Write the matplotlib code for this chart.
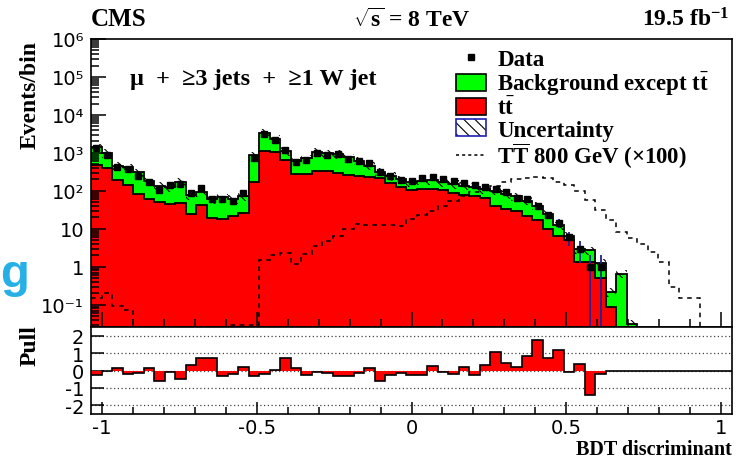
import numpy as np
import matplotlib.pyplot as plt
from matplotlib.patches import Patch
from matplotlib.lines import Line2D
from matplotlib.ticker import LogLocator, NullFormatter, MultipleLocator

# BDT discriminant, 61 bins between -1.035 and 1.035
x_lo, x_hi, n_bins = -1.035, 1.035, 61

ttbar = [483, 395, 195, 147, 81, 62, 50, 45, 48, 24.5,
         43, 19.5, 18.3, 21.4, 25.6, 170, 1150, 1050, 650, 280,
         280, 340, 330, 295, 265, 250, 233, 215, 165, 125,
         105, 112, 115, 105, 90, 80, 72, 63, 40, 33,
         29, 22, 17, 10, 6.6, 5.0, 1.3, 1.35, 0.52, 0.088,
         0, 0, 0, 0, 0, 0, 0, 0, 0, 0, 0]
other_bkg = [917, 605, 270, 273, 229, 125, 88, 81, 122, 51.5,
             50, 42.5, 49.7, 40.6, 46.4, 700, 2250, 1290, 470, 350,
             440, 710, 650, 645, 505, 380, 232, 105, 85, 75,
             65, 74, 80, 65, 62, 58, 54, 49, 62, 50,
             43, 33, 24, 14.5, 5.7, 1.5, 1.6, 1.35, 0.73, 0.132,
             0.66, 0.032, 0, 0, 0, 0, 0, 0, 0, 0, 0]
data = [1310, 890, 420, 380, 245, 170, 108, 144, 152, 89,
        117, 62, 62, 55, 89, 725, 3160, 2240, 1220, 590,
        660, 980, 890, 940, 700, 600, 540, 310, 250, 198,
        186, 215, 235, 208, 186, 165, 140, 128, 110, 91,
        66, 60, 41, 23, 14, 6, 3, 1, 1, 0,
        0, 0, 0, 0, 0, 0, 0, 0, 0, 0, 0]
signal_x100 = [0.15, 0.21, 0.095, 0.074, 0, 0, 0, 0, 0, 0,
               0, 0, 0, 0.03, 0.03, 0.03, 1.47, 2.0, 2.3, 1.2,
               2.2, 3.6, 4.9, 6.6, 10, 13.5, 12.8, 13, 12.3, 11.8,
               17.7, 22.5, 30, 40, 55, 75, 93, 112, 132, 170,
               200, 215, 230, 215, 170, 145, 97, 58, 32, 17.5,
               8.5, 5.9, 4.0, 2.5, 1.3, 0.30, 0.155, 0.155, 0, 0, 0]
pull = [-0.23, 0.0, 0.12, -0.19, -0.12, 0.12, -0.58, -0.08, -0.5, 0.31,
        0.73, 0.69, -0.31, -0.19, 0.19, -0.31, -0.19, 0.04, 0.73, 0.15,
        -0.23, -0.08, -0.15, -0.31, -0.31, -0.15, 0.15, -0.58, -0.27, -0.15,
        -0.27, -0.27, 0.23, -0.08, -0.19, 0.19, -0.27, 0.31, 1.04, 0.42,
        0.19, 0.85, 1.73, 0.73, 1.15, -0.08, 0.38, -1.42, -0.19, 0,
        0, 0, 0, 0, 0, 0, 0, 0, 0, 0, 0]
unc_frac = 0.25  # relative size of the hatched uncertainty band

yticks = [0.1, 1, 10, 100, 1e3, 1e4, 1e5, 1e6]
ytick_labels = ['10⁻¹', '1', '10', '10²', '10³', '10⁴', '10⁵', '10⁶']
xticks = [-1, -0.5, 0, 0.5, 1]
xtick_labels = ['-1', '-0.5', '0', '0.5', '1']
pull_ticks = [-2, -1, 0, 1, 2]
pull_labels = ['-2', '-1', '0', '1', '2']

serif = 'Liberation Serif'
plt.rcParams['mathtext.fontset'] = 'custom'
plt.rcParams['mathtext.rm'] = 'Liberation Serif:bold'
plt.rcParams['mathtext.bf'] = 'Liberation Serif:bold'
plt.rcParams['mathtext.it'] = 'Liberation Serif:italic:bold'
plt.rcParams['hatch.linewidth'] = 0.8

edges = np.linspace(x_lo, x_hi, n_bins + 1)
centers = 0.5 * (edges[1:] + edges[:-1])
ttbar = np.array(ttbar)
total = ttbar + np.array(other_bkg)
data = np.array(data, dtype=float)

W, H = 742, 460
fig = plt.figure(figsize=(W / 100, H / 100), dpi=100)
ax = fig.add_axes([91 / W, 1 - 328 / H, 641 / W, 288 / H])
axp = fig.add_axes([91 / W, 1 - 415 / H, 641 / W, 87 / H])

ax.set_yscale('log')
ax.stairs(total, edges, baseline=0, fill=True, facecolor='#00ff00',
          edgecolor='black', linewidth=1.3)
ax.stairs(ttbar, edges, baseline=0, fill=True, facecolor='#ff0000',
          edgecolor='black', linewidth=1.3)
ax.stairs(total * (1 + unc_frac), edges, baseline=total * (1 - unc_frac),
          fill=True, facecolor='none', edgecolor='black', hatch='\\\\\\',
          linewidth=0)
ax.stairs(signal_x100, edges, baseline=None, color='black',
          linestyle=(0, (3, 3)), linewidth=1.1)
m = data > 0
ax.errorbar(centers[m], data[m], yerr=np.sqrt(data[m]), fmt='s', color='black',
            ms=5, ecolor='#20209a', elinewidth=1.3, capsize=0, zorder=5)

ax.set_xlim(x_lo, x_hi)
ax.set_ylim(0.026, 1e6)
ax.set_yticks(yticks)
ax.set_yticklabels(ytick_labels)
ax.yaxis.set_minor_locator(LogLocator(base=10, subs=np.arange(2, 10), numticks=100))
ax.yaxis.set_minor_formatter(NullFormatter())
ax.set_xticks(xticks)
ax.xaxis.set_minor_locator(MultipleLocator(0.1))
ax.tick_params(which='both', direction='in', top=False, right=False,
               labelbottom=False, labelsize=14, width=1.1)
ax.tick_params(which='major', length=11, pad=5)
ax.tick_params(which='minor', length=6)

# pull panel
for yv in pull_ticks:
    axp.axhline(yv, color='#444444', linestyle=(0, (1, 2)), linewidth=0.9, zorder=0)
axp.stairs(pull, edges, baseline=0, fill=True, color='#ff0000', zorder=2)
axp.stairs(pull, edges, baseline=None, color='black', linewidth=1.2, zorder=3)
axp.set_xlim(x_lo, x_hi)
axp.set_ylim(-2.5, 2.5)
axp.set_yticks(pull_ticks)
axp.set_yticklabels(pull_labels)
axp.set_xticks(xticks)
axp.set_xticklabels(xtick_labels)
axp.xaxis.set_minor_locator(MultipleLocator(0.1))
axp.tick_params(which='both', direction='in', top=False, right=False,
                labelsize=14, width=1.1)
axp.tick_params(which='major', length=9)
axp.tick_params(axis='x', which='major', pad=3)
axp.tick_params(axis='y', which='major', pad=5)
axp.tick_params(which='minor', length=5)

for a in (ax, axp):
    for s in a.spines.values():
        s.set_linewidth(1.2)

# legend
unc_handle = (Patch(facecolor='white', edgecolor='black', hatch='\\\\\\', linewidth=0),
              Patch(facecolor='none', edgecolor='#2020b0', linewidth=1.2))
handles = [Line2D([], [], marker='s', color='black', linestyle='none', ms=4),
           Patch(facecolor='#00ff00', edgecolor='black', linewidth=1.2),
           Patch(facecolor='#ff0000', edgecolor='black', linewidth=1.2),
           unc_handle,
           Line2D([], [], color='black', linestyle=(0, (2, 2)), linewidth=1.1)]
labels = ['Data', r'Background except $\mathrm{t\bar{t}}$', r'$\mathrm{t\bar{t}}$',
          'Uncertainty', r'$\mathrm{T\overline{T}}$ 800 GeV (×100)']
ax.legend(handles, labels, loc='upper left', bbox_to_anchor=(456 / W, 1 - 50 / H),
          bbox_transform=fig.transFigure, frameon=False,
          prop={'family': serif, 'weight': 'bold', 'size': 16.5},
          handlelength=1.3, handleheight=0.75, handletextpad=0.5,
          labelspacing=0.0, borderpad=0, borderaxespad=0)

# texts
fig.text(91 / W, 1 - 20 / H, 'CMS', ha='left', va='center', fontsize=18,
         fontweight='bold', family=serif)
fig.text(412 / W, 1 - 20 / H, r'$\sqrt{\mathrm{s}}$ = 8 TeV', ha='center', va='center',
         fontsize=17, fontweight='bold', family=serif)
fig.text(729 / W, 1 - 20 / H, r'19.5 fb$^{\mathrm{-1}}$', ha='right', va='center',
         fontsize=17, fontweight='bold', family=serif)
fig.text(130 / W, 1 - 80 / H, 'μ  +  ≥3 jets  +  ≥1 W jet', ha='left', va='center',
         fontsize=17.5, fontweight='bold', family=serif)
fig.text(30 / W, 1 - 95 / H, 'Events/bin', rotation=90, ha='center', va='center',
         fontsize=17, fontweight='bold', family=serif)
fig.text(30 / W, 1 - 346 / H, 'Pull', rotation=90, ha='center', va='center',
         fontsize=17, fontweight='bold', family=serif)
fig.text(732 / W, 1 - 450 / H, 'BDT discriminant', ha='right', va='center',
         fontsize=14.5, fontweight='bold', family=serif)
fig.text(0.5 / W, 1 - 287 / H, 'g', ha='left', va='baseline', fontsize=34,
         fontweight='bold', family='Liberation Sans', color='#26b0e6')

fig.savefig('out.png', dpi=100)
